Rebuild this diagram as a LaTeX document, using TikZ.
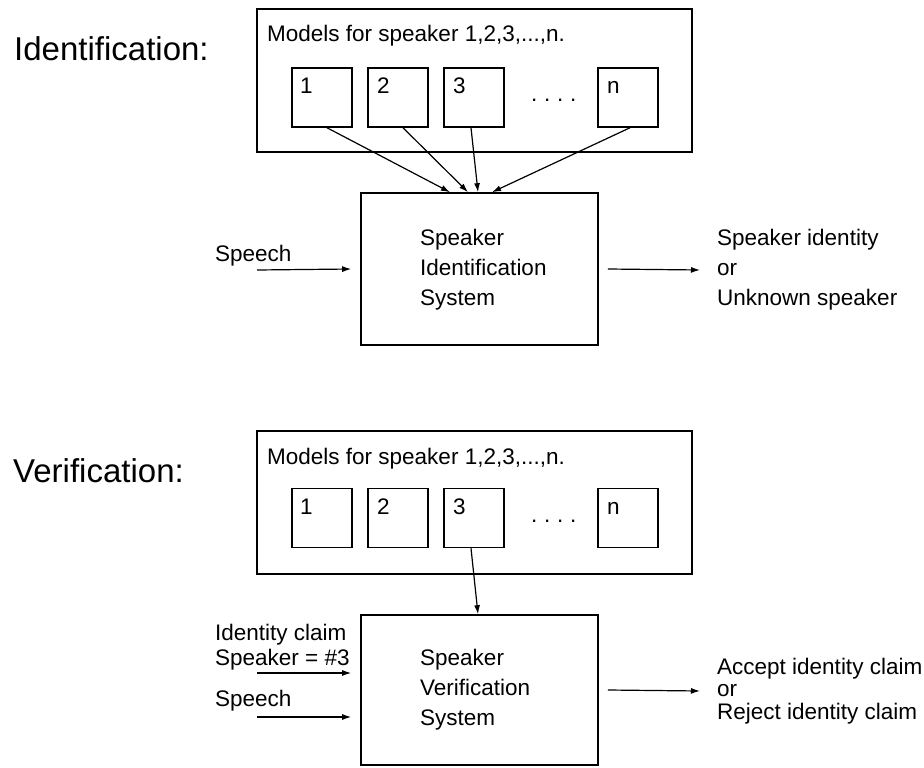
\documentclass[tikz,border=0pt]{standalone}
\usepackage{fontspec}
\setmainfont{Liberation Sans}
\usetikzlibrary{arrows.meta}
\begin{document}
\begin{tikzpicture}[x=1pt,y=-1pt,
  outer/.style={draw, line width=1.6pt, inner sep=0pt, minimum width=435pt, minimum height=143pt},
  mbox/.style={draw, line width=1.5pt, inner sep=0pt, minimum width=60pt, minimum height=59pt},
  sysbox/.style={draw, line width=1.6pt, inner sep=0pt, minimum width=237pt},
  txt/.style={inner sep=0pt, font=\fontsize{22.5}{30}\selectfont},
  title/.style={inner sep=0pt, font=\fontsize{33}{40}\selectfont, anchor=base west},
  arr/.style={line width=1.2pt, -{Latex[length=9pt,width=6pt]}}
]
\useasboundingbox (0,0) rectangle (924,768);

% ---------- Identification ----------
\node[title] (idtitle) at (14,60) {Identification:};
\node[outer] (idouter) at (474.5,80.5) {};
\node[txt, anchor=base west] (idmodels) at (267,42) {Models for speaker 1,2,3,...,n.};
\node[mbox] (ia) at (322,97.5) {};
\node[mbox] (ib) at (398,97.5) {};
\node[mbox] (ic) at (474,97.5) {};
\node[mbox] (in) at (628,97.5) {};
\node[txt, anchor=base west] (ian) at (300,93) {1};
\node[txt, anchor=base west] (ibn) at (377,93) {2};
\node[txt, anchor=base west] (icn) at (453,93) {3};
\node[txt, anchor=base west] (inn) at (607,93) {n};
\node[txt, anchor=base west] (idots) at (531,101) {.\hspace{0.3em}.\hspace{0.3em}.\hspace{0.3em}.};

\node[sysbox, minimum height=152pt] (idsys) at (479.5,269) {};
\node[txt, anchor=west, align=left] (idsystxt) at (420,270) {Speaker\\Identification\\System};

\draw[arr] ([xshift=5pt]ia.south) -- ([xshift=-29.5pt]idsys.north);
\draw[arr] ([xshift=5pt]ib.south) -- ([xshift=-11.5pt]idsys.north);
\draw[arr] ([xshift=-3pt]ic.south) -- ([xshift=-1.5pt]idsys.north);
\draw[arr] ([xshift=2pt]in.south) -- ([xshift=12.5pt]idsys.north);

\node[txt, anchor=base west] (idspeech) at (215,261) {Speech};
\coordinate (idspin) at (257,270);
\draw[arr] (idspin) -- ([xshift=-9pt]idsys.west);

\node[txt, anchor=west, align=left] (idout) at (717,270) {Speaker identity\\or\\Unknown speaker};
\draw[arr] ([xshift=9pt]idsys.east) -- ([xshift=-17pt]idout.west);

% ---------- Verification ----------
\node[title] (vtitle) at (13,482) {Verification:};
\node[outer] (vouter) at (474.5,502.5) {};
\node[txt, anchor=base west] (vmodels) at (267,464) {Models for speaker 1,2,3,...,n.};
\node[mbox] (va) at (322,518) {};
\node[mbox] (vb) at (398,518) {};
\node[mbox] (vc) at (474,518) {};
\node[mbox] (vn) at (628,518) {};
\node[txt, anchor=base west] (van) at (300,514) {1};
\node[txt, anchor=base west] (vbn) at (377,514) {2};
\node[txt, anchor=base west] (vcn) at (453,514) {3};
\node[txt, anchor=base west] (vnn) at (607,514) {n};
\node[txt, anchor=base west] (vdots) at (531,522) {.\hspace{0.3em}.\hspace{0.3em}.\hspace{0.3em}.};

\node[sysbox, minimum height=150pt] (vsys) at (479.5,690) {};
\node[txt, anchor=west, align=left] (vsystxt) at (420,690) {Speaker\\Verification\\System};
\coordinate (vsysw) at ([xshift=-9pt]vsys.west);

\draw[arr] ([xshift=-3pt]vc.south) -- ([xshift=-1.5pt]vsys.north);

\node[txt, anchor=base west] (vclaim1) at (215,640) {Identity claim};
\node[txt, anchor=base west] (vclaim2) at (215,665) {Speaker = \#3};
\coordinate (vclin) at (257,673);
\draw[arr] (vclin) -- (vclin -| vsysw);

\node[txt, anchor=base west] (vspeech) at (215,706) {Speech};
\coordinate (vspin) at (257,717);
\draw[arr] (vspin) -- (vspin -| vsysw);

\node[txt, anchor=west, align=left, font=\fontsize{22.5}{22.5}\selectfont] (vout) at (717,691) {Accept identity claim\\or\\Reject identity claim};
\draw[arr] ([xshift=9pt]vsys.east) -- ([xshift=-17pt]vout.west);
\end{tikzpicture}
\end{document}
